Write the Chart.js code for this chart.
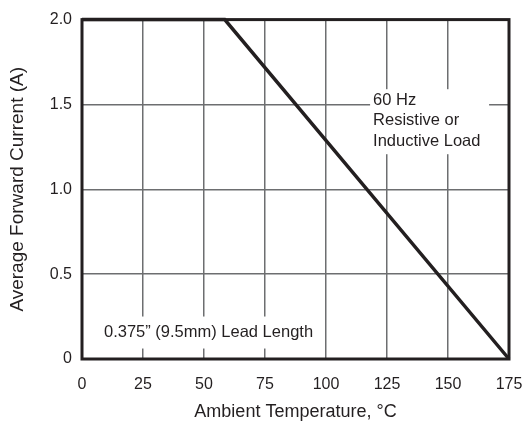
<!DOCTYPE html>
<html>
<head>
<meta charset="utf-8">
<script src="https://cdn.jsdelivr.net/npm/chart.js@4"></script>
<style>
  html, body { margin: 0; padding: 0; background: #fff; }
  #wrap { width: 532px; height: 425px; }
</style>
</head>
<body>
<div id="wrap"><canvas id="derating"></canvas></div>
<script>
// derating curve
const tempPoints = [0, 58.5, 175];
const currentPoints = [2.0, 2.0, 0];
const xTicks = [0, 25, 50, 75, 100, 125, 150, 175];
const yTicks = [0, 0.5, 1.0, 1.5, 2.0];
const noteLoad = ["60 Hz", "Resistive or", "Inductive Load"];
const noteLead = "0.375\u201D (9.5mm) Lead Length";

const ink = "#231f20";
const font = "'Liberation Sans', Arial, sans-serif";

// frame + text notes drawn over the grid, under the curve
const notesPlugin = {
    id: "notes",
    beforeDatasetsDraw(chart) {
        const { ctx, chartArea: a, scales: { x, y } } = chart;
        ctx.save();
        ctx.font = "16.5px " + font;
        ctx.textBaseline = "middle";

        // load note (white box hides the grid behind it)
        let lx = x.getPixelForValue(119.3);
        let ly = y.getPixelForValue(1.525);
        ctx.fillStyle = "#fff";
        ctx.fillRect(lx - 3, ly - 11, 119, 65);
        ctx.fillStyle = ink;
        noteLoad.forEach((t, i) => ctx.fillText(t, lx, ly + i * 20.5));

        // lead length note
        let px = x.getPixelForValue(9);
        let py = y.getPixelForValue(0.156);
        let w = ctx.measureText(noteLead).width;
        ctx.fillStyle = "#fff";
        ctx.fillRect(px - 4, py - 16, w + 8, 32);
        ctx.fillStyle = ink;
        ctx.fillText(noteLead, px, py);

        // heavy frame
        ctx.strokeStyle = ink;
        ctx.lineWidth = 3;
        ctx.strokeRect(a.left, a.top, a.right - a.left, a.bottom - a.top);
        ctx.restore();
    }
};

new Chart(document.getElementById("derating"), {
    type: "line",
    data: {
        labels: tempPoints,
        datasets: [{
            data: tempPoints.map((t, i) => ({ x: t, y: currentPoints[i] })),
            borderColor: ink,
            borderWidth: 3.5,
            pointRadius: 0,
            tension: 0,
            clip: false
        }]
    },
    options: {
        responsive: true,
        maintainAspectRatio: false,
        animation: false,
        plugins: { legend: { display: false }, tooltip: { enabled: false } },
        layout: { padding: { left: 0, top: 12, right: 23, bottom: 0 } },
        scales: {
            x: {
                type: "linear",
                min: 0, max: 175,
                afterBuildTicks: s => { s.ticks = xTicks.map(v => ({ value: v })); },
                afterFit: s => { s.height = 66; s.paddingLeft = 0; s.paddingRight = 0; },
                grid: { color: "#6d6e70", lineWidth: 1.5, drawTicks: false },
                border: { display: false },
                ticks: { color: ink, font: { family: font, size: 16 }, padding: 16, maxRotation: 0 },
                title: { display: true, text: "Ambient Temperature, \u00B0C", color: ink,
                         font: { family: font, size: 18 }, padding: { top: 4, bottom: 2 } }
            },
            y: {
                min: 0, max: 2.0,
                afterBuildTicks: s => { s.ticks = yTicks.map(v => ({ value: v })); },
                afterFit: s => { s.width = 82; },
                grid: { color: "#6d6e70", lineWidth: 1.5, drawTicks: false },
                border: { display: false },
                ticks: { color: ink, font: { family: font, size: 16 }, padding: 10,
                         callback: v => v === 0 ? "0" : v.toFixed(1) },
                title: { display: true, text: "Average Forward Current (A)", color: ink,
                         font: { family: font, size: 19 }, padding: { top: 6, bottom: 0 } }
            }
        }
    },
    plugins: [notesPlugin]
});
</script>
</body>
</html>
